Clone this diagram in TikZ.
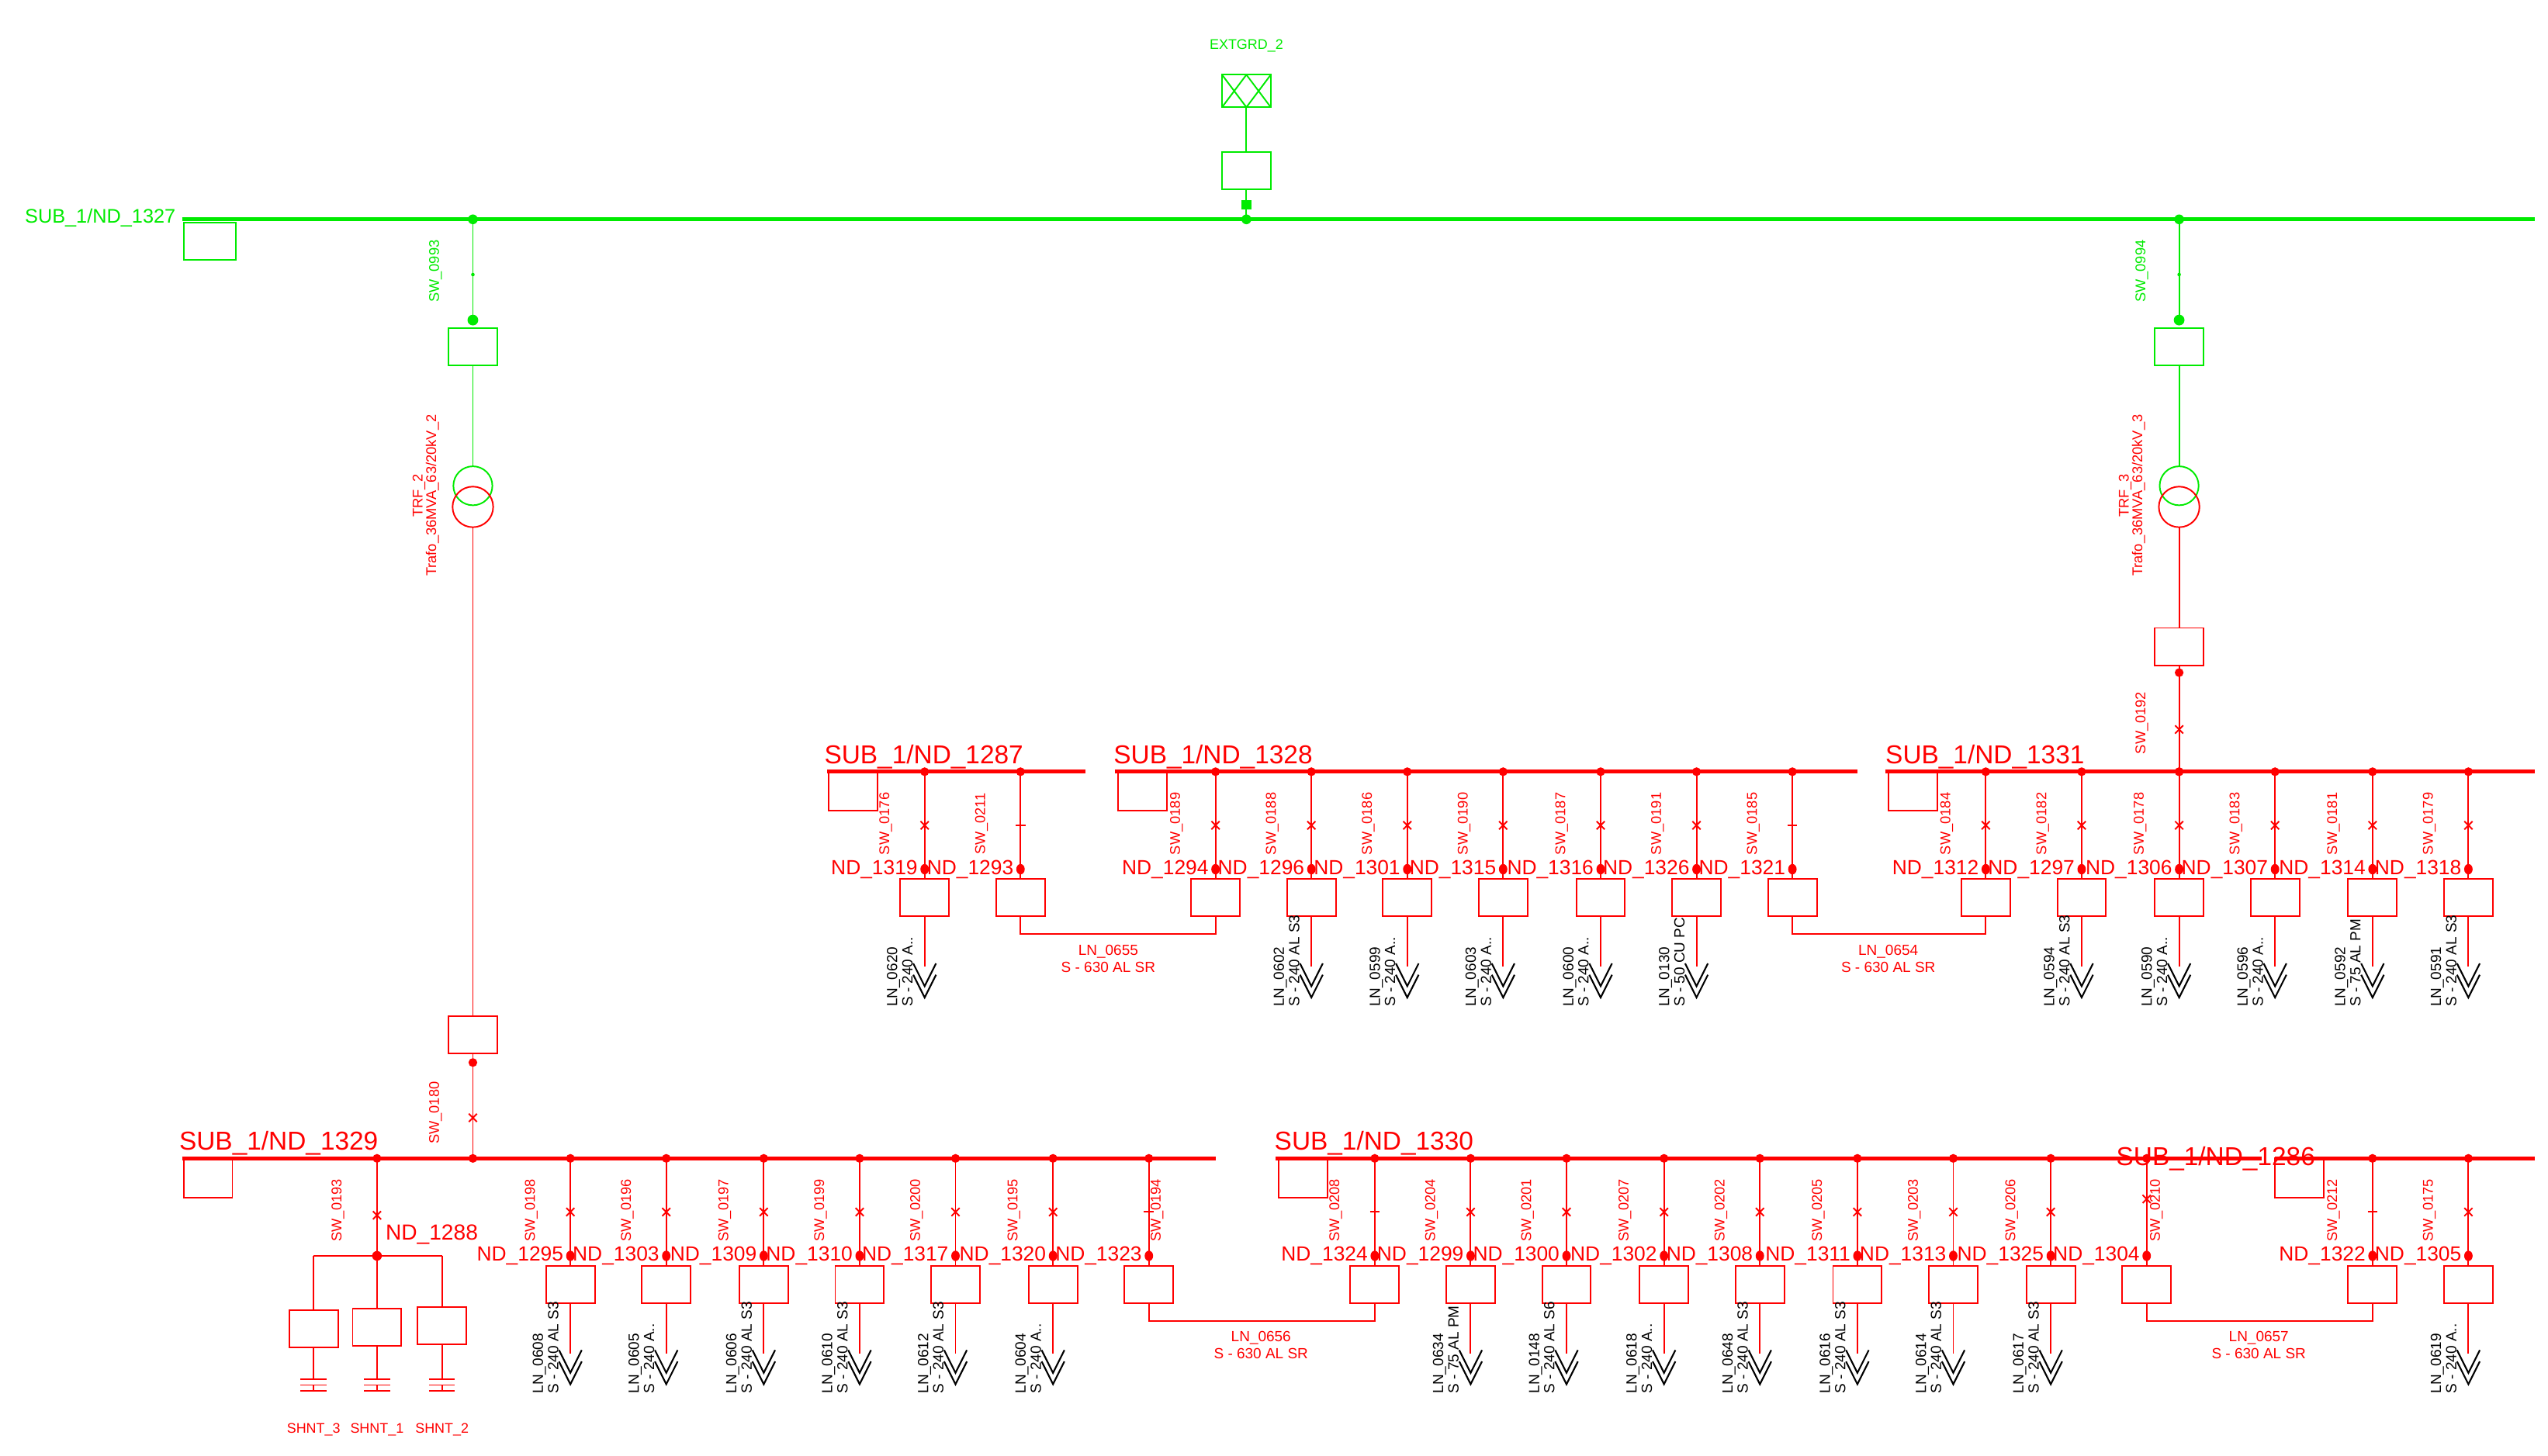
\documentclass[tikz,border=0pt]{standalone}
\usepackage{fontspec}
\setmainfont{Liberation Sans}
\definecolor{grn}{RGB}{0,235,0}
\definecolor{rd}{RGB}{255,0,0}
\tikzset{
  x=0.02094cm, y=-0.02094cm,
  bus/.style={line width=1.4pt},
  thinl/.style={line width=0.55pt},
  fbox/.style={draw, line width=0.55pt, fill=white, minimum width=0.628cm, minimum height=0.482cm, inner sep=0pt},
  buslbl/.style={font=\fontsize{9.5}{12}\selectfont, inner sep=0pt},
  ndlbl/.style={text=rd, font=\fontsize{7.5}{9}\selectfont, inner sep=0pt},
  swlbl/.style={text=rd, font=\fontsize{5.2}{6}\selectfont, rotate=90, inner sep=0pt},
  lnlbl/.style={text=black, font=\fontsize{5.4}{5.6}\selectfont, rotate=90, align=left, inner sep=0pt},
  tielbl/.style={text=rd, font=\fontsize{5.4}{6.4}\selectfont, align=center, inner sep=0pt},
  smlbl/.style={font=\fontsize{5.1}{6}\selectfont, inner sep=0pt},
}
\newcommand\swx[2]{\draw[rd,thinl] ({#1-2.5},{#2-2.5}) -- ({#1+2.5},{#2+2.5}) ({#1-2.5},{#2+2.5}) -- ({#1+2.5},{#2-2.5});}
\newcommand\swt[2]{\draw[rd,thinl] ({#1-3},{#2}) -- ({#1+3},{#2});}
% x, yoffset, node label, switch label, switch type, switch label dx
\newcommand\feedbase[6]{%
  \fill[rd] (#1,{475+#2}) circle (2.7);
  \coordinate (t#1-#2) at (#1,{475+#2});
  \node[fbox, draw=rd] (b#1-#2) at (#1,{552.5+#2}) {};
  \draw[rd,thinl] (t#1-#2) -- (b#1-#2.north);
  \csname sw#5\endcsname{#1}{508+#2}
  \fill[rd] (#1,{535+#2}) ellipse (2.6 and 3.2);
  \node[ndlbl, anchor=east] at ({#1-4},{535+#2}) {#3};
  \node[swlbl] at ({#1+#6},{507+#2}) {#4};
}
\newcommand\load[4]{%
  \coordinate (e#1-#2) at (#1,{595+#2});
  \draw[rd,thinl] (b#1-#2.south) -- (e#1-#2);
  \draw[black,line width=0.6pt] ({#1-7},{593+#2}) -- (#1,{607+#2}) -- ({#1+7},{593+#2});
  \draw[black,line width=0.6pt] ({#1-7},{600+#2}) -- (#1,{614+#2}) -- ({#1+7},{600+#2});
  \node[lnlbl, anchor=south west] at ({#1-7},{620+#2}) {#3\\#4};
}
\newcommand\tie[5]{% x1,x2,yoff,labelx,text
  \draw[rd,thinl] (b#1-#3.south) -- (#1,{575+#3}) -- (#2,{575+#3}) -- (b#2-#3.south);
  \node[tielbl] at (#4,{590+#3}) {#5};
}
\begin{document}
\begin{tikzpicture}
\useasboundingbox[fill=white] (0,0) rectangle (1568,896);

% ===== green 110 kV part =====
\draw[grn,bus] (112,135) -- (1560,135);
\node[buslbl, text=grn, anchor=west, font=\fontsize{7.2}{9}\selectfont] at (15,134) {SUB\_1/ND\_1327};
\draw[grn,thinl] (113,137) rectangle (145,160);
% external grid
\node[smlbl, text=grn] at (767,28) {EXTGRD\_2};
\node[draw=grn, thinl, minimum width=0.628cm, minimum height=0.419cm, inner sep=0pt] (eg) at (767,56) {};
\draw[grn,thinl] (752,46) -- (767,66) (767,46) -- (752,66) (767,46) -- (782,66) (782,46) -- (767,66);
\node[fbox, draw=grn] (egb) at (767,105) {};
\coordinate (egbus) at (767,135);
\draw[grn,thinl] (eg.south) -- (egb.north);
\draw[grn,thinl] (egb.south) -- (egbus);
\fill[grn] (764,123) rectangle (770,129);
\fill[grn] (egbus) circle (3);

% transformers
\foreach \xx/\sw/\tn/\tr/\rb/\rd/\rx/\bb in {291/SW\_0993/TRF\_2/{Trafo\_36MVA\_63/20kV\_2}/637/654/688/713, 1341/SW\_0994/TRF\_3/{Trafo\_36MVA\_63/20kV\_3}/398/414/449/475}{
  \coordinate (g\xx) at (\xx,135);
  \fill[grn] (g\xx) circle (3);
  \draw[grn,thinl] (g\xx) -- (\xx,197);
  \fill[grn] (\xx,169) circle (1.1);
  \fill[grn] (\xx,197) circle (3.3);
  \node[fbox, draw=grn] (gb\xx) at (\xx,213.5) {};
  \draw[grn,thinl] (gb\xx.south) -- (\xx,287);
  \draw[grn,thinl] (\xx,299) circle (12);
  \draw[rd,thinl] (\xx,312) circle (12.5);
  \node[swlbl, text=grn] at ({\xx-23},167) {\sw};
  \node[swlbl, align=center, font=\fontsize{5.2}{5}\selectfont] at ({\xx-29},305) {\tn\\\tr};
  \node[fbox, draw=rd] (rb\xx) at (\xx,\rb) {};
  \draw[rd,thinl] (\xx,324.5) -- (rb\xx.north);
  \fill[rd] (\xx,\rd) circle (2.7);
  \coordinate (rbus\xx) at (\xx,\bb);
  \draw[rd,thinl] (rb\xx.south) -- (rbus\xx);
  \swx{\xx}{\rx}
  \fill[rd] (rbus\xx) circle (2.7);
}
\node[swlbl] at (1318,445) {SW\_0192};
\node[swlbl] at (268,685) {SW\_0180};

% ===== red buses =====
\draw[rd,bus] (509,475) -- (668,475);
\draw[rd,bus] (686,475) -- (1143,475);
\draw[rd,bus] (1160,475) -- (1560,475);
\draw[rd,bus] (112,713) -- (748,713);
\draw[rd,bus] (785,713) -- (1392,713);
\draw[rd,bus] (1400,713) -- (1560,713);
\foreach \bx/\by in {510/475, 688/475, 1162/475, 113/713, 787/713, 1400/713}
  \draw[rd,thinl] (\bx,\by) rectangle ({\bx+30},{\by+24});
\node[buslbl, text=rd, anchor=base west] at (507,470) {SUB\_1/ND\_1287};
\node[buslbl, text=rd, anchor=base west] at (685,470) {SUB\_1/ND\_1328};
\node[buslbl, text=rd, anchor=base west] at (1160,470) {SUB\_1/ND\_1331};
\node[buslbl, text=rd, anchor=base west] at (110,708) {SUB\_1/ND\_1329};
\node[buslbl, text=rd, anchor=base west] at (784,708) {SUB\_1/ND\_1330};
\node[buslbl, text=rd, anchor=west] at (1302,713) {SUB\_1/ND\_1286};

% ===== upper feeders =====
\feedbase{569}{0}{ND\_1319}{SW\_0176}{x}{-24}\load{569}{0}{LN\_0620}{S - 240 A..}
\feedbase{628}{0}{ND\_1293}{SW\_0211}{t}{-24}
\feedbase{748}{0}{ND\_1294}{SW\_0189}{x}{-24}
\feedbase{807}{0}{ND\_1296}{SW\_0188}{x}{-24}\load{807}{0}{LN\_0602}{S - 240 AL S3}
\feedbase{866}{0}{ND\_1301}{SW\_0186}{x}{-24}\load{866}{0}{LN\_0599}{S - 240 A..}
\feedbase{925}{0}{ND\_1315}{SW\_0190}{x}{-24}\load{925}{0}{LN\_0603}{S - 240 A..}
\feedbase{985}{0}{ND\_1316}{SW\_0187}{x}{-24}\load{985}{0}{LN\_0600}{S - 240 A..}
\feedbase{1044}{0}{ND\_1326}{SW\_0191}{x}{-24}\load{1044}{0}{LN\_0130}{S - 50 CU PC}
\feedbase{1103}{0}{ND\_1321}{SW\_0185}{t}{-24}
\feedbase{1222}{0}{ND\_1312}{SW\_0184}{x}{-24}
\feedbase{1281}{0}{ND\_1297}{SW\_0182}{x}{-24}\load{1281}{0}{LN\_0594}{S - 240 AL S3}
\feedbase{1341}{0}{ND\_1306}{SW\_0178}{x}{-24}\load{1341}{0}{LN\_0590}{S - 240 A..}
\feedbase{1400}{0}{ND\_1307}{SW\_0183}{x}{-24}\load{1400}{0}{LN\_0596}{S - 240 A..}
\feedbase{1460}{0}{ND\_1314}{SW\_0181}{x}{-24}\load{1460}{0}{LN\_0592}{S - 75 AL PM}
\feedbase{1519}{0}{ND\_1318}{SW\_0179}{x}{-24}\load{1519}{0}{LN\_0591}{S - 240 AL S3}
\tie{628}{748}{0}{682}{LN\_0655\\S - 630 AL SR}
\tie{1103}{1222}{0}{1162}{LN\_0654\\S - 630 AL SR}

% ===== lower feeders =====
\feedbase{351}{238}{ND\_1295}{SW\_0198}{x}{-24}\load{351}{238}{LN\_0608}{S - 240 AL S3}
\feedbase{410}{238}{ND\_1303}{SW\_0196}{x}{-24}\load{410}{238}{LN\_0605}{S - 240 A..}
\feedbase{470}{238}{ND\_1309}{SW\_0197}{x}{-24}\load{470}{238}{LN\_0606}{S - 240 AL S3}
\feedbase{529}{238}{ND\_1310}{SW\_0199}{x}{-24}\load{529}{238}{LN\_0610}{S - 240 AL S3}
\feedbase{588}{238}{ND\_1317}{SW\_0200}{x}{-24}\load{588}{238}{LN\_0612}{S - 240 AL S3}
\feedbase{648}{238}{ND\_1320}{SW\_0195}{x}{-24}\load{648}{238}{LN\_0604}{S - 240 A..}
\feedbase{707}{238}{ND\_1323}{SW\_0194}{t}{5}
\feedbase{846}{238}{ND\_1324}{SW\_0208}{t}{-24}
\feedbase{905}{238}{ND\_1299}{SW\_0204}{x}{-24}\load{905}{238}{LN\_0634}{S - 75 AL PM}
\feedbase{964}{238}{ND\_1300}{SW\_0201}{x}{-24}\load{964}{238}{LN\_0148}{S - 240 AL S6}
\feedbase{1024}{238}{ND\_1302}{SW\_0207}{x}{-24}\load{1024}{238}{LN\_0618}{S - 240 A..}
\feedbase{1083}{238}{ND\_1308}{SW\_0202}{x}{-24}\load{1083}{238}{LN\_0648}{S - 240 AL S3}
\feedbase{1143}{238}{ND\_1311}{SW\_0205}{x}{-24}\load{1143}{238}{LN\_0616}{S - 240 AL S3}
\feedbase{1202}{238}{ND\_1313}{SW\_0203}{x}{-24}\load{1202}{238}{LN\_0614}{S - 240 AL S3}
\feedbase{1262}{238}{ND\_1325}{SW\_0206}{x}{-24}\load{1262}{238}{LN\_0617}{S - 240 AL S3}
\feedbase{1321}{238}{ND\_1304}{SW\_0210}{n}{6}\swx{1321}{738}
\feedbase{1460}{238}{ND\_1322}{SW\_0212}{t}{-24}
\feedbase{1519}{238}{ND\_1305}{SW\_0175}{x}{-24}\load{1519}{238}{LN\_0619}{S - 240 A..}
\tie{707}{846}{238}{776}{LN\_0656\\S - 630 AL SR}
\tie{1321}{1460}{238}{1390}{LN\_0657\\S - 630 AL SR}

% ===== shunts =====
\coordinate (sh) at (232,713);
\coordinate (nd1288) at (232,773);
\fill[rd] (sh) circle (2.7);
\draw[rd,thinl] (sh) -- (nd1288);
\swx{232}{748}
\node[swlbl] at (208,745) {SW\_0193};
\fill[rd] (nd1288) circle (3);
\node[ndlbl, anchor=west, font=\fontsize{8}{9}\selectfont] at (237,760) {ND\_1288};
\draw[rd,thinl] (193,773) -- (272,773);
\foreach \sx/\sy/\sn in {193/818/SHNT\_3, 232/817/SHNT\_1, 272/816/SHNT\_2}{
  \node[fbox, draw=rd] (s\sx) at (\sx,\sy) {};
  \draw[rd,thinl] (\sx,773) -- (s\sx.north);
  \draw[rd,thinl] (s\sx.south) -- (\sx,849);
  \draw[rd,thinl] ({\sx-8},849) -- ({\sx+8},849) ({\sx-8},852.5) -- ({\sx+8},852.5) (\sx,852.5) -- (\sx,856) ({\sx-8},856) -- ({\sx+8},856);
  \node[smlbl, text=rd] at (\sx,880) {\sn};
}
\end{tikzpicture}
\end{document}
